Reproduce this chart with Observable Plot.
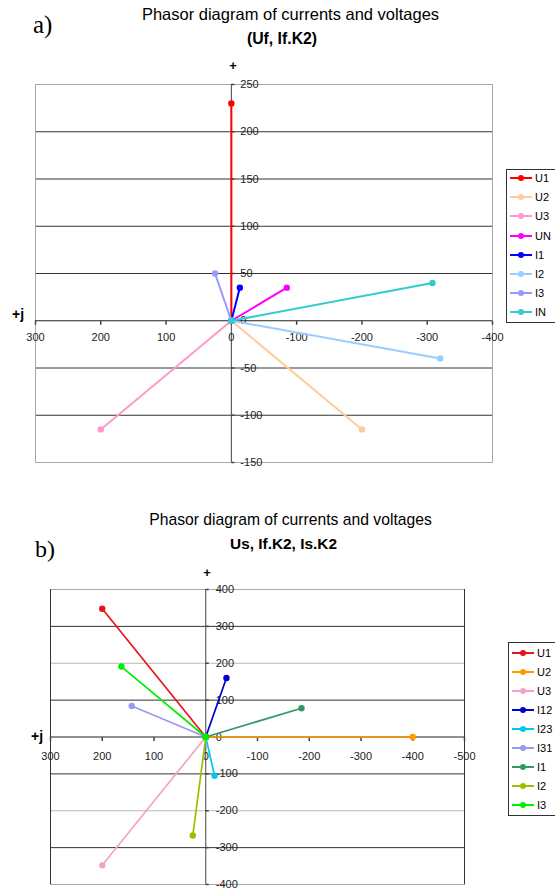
<!DOCTYPE html>
<html><head><meta charset="utf-8">
<script src="https://cdn.jsdelivr.net/npm/d3@7"></script>
<script src="https://cdn.jsdelivr.net/npm/@observablehq/plot@0.6"></script>
<style>
body{margin:0;background:#fff;}
#wrap{position:relative;width:555px;height:891px;overflow:hidden;font-family:"Liberation Sans",Arial,sans-serif;color:#000;}
.t{position:absolute;white-space:nowrap;line-height:1;transform:translateX(-50%);}
.abs{position:absolute;white-space:nowrap;line-height:1;}
.leg{position:absolute;border:1px solid #333;background:#fff;width:70px;}
.item{position:absolute;left:0;height:14px;font-size:11px;line-height:14px;}
.sw{position:absolute;left:3px;top:6px;width:22px;height:2px;}
.dotm{position:absolute;left:8px;top:-2px;width:6px;height:6px;border-radius:50%;}
.lab{position:absolute;left:28px;top:0;}
svg.p{position:absolute;left:0;}
</style></head>
<body><div id="wrap"></div>
<script>
// ---- Panel a data ----
const namesA = ["U1","U2","U3","UN","I1","I2","I3","IN"];
const reA = [0, -200, 200, -85, -13, -320, 25, -308];
const imA = [230, -115, -115, 35, 35, -40, 50, 40];
const xTicksA = [300, 200, 100, 0, -100, -200, -300, -400];
const yTicksA = [250, 200, 150, 100, 50, 0, -50, -100, -150];
const gridA = [200, 150, 100, 50, -50, -100];
const colorsA = ["#ff0000","#ffcc99","#ff99cc","#ff00ff","#0000ff","#99ccff","#9999ff","#33cccc"];

// ---- Panel b data ----
const namesB = ["U1","U2","U3","I12","I23","I31","I1","I2","I3"];
const reB = [200, -400, 200, -40, -17, 143, -185, 25, 163];
const imB = [348, 0, -348, 160, -105, 84, 78, -267, 191];
const xTicksB = [300, 200, 100, 0, -100, -200, -300, -400, -500];
const yTicksB = [400, 300, 200, 100, 0, -100, -200, -300, -400];
const gridDarkB = [300, 100, -100, -300];
const gridLightB = [200, -200];
const colorsB = ["#e8141c","#ff9900","#f7a1c8","#0000cc","#00c8f0","#9999ee","#339966","#99c000","#00ee00"];

const wrap = document.getElementById("wrap");
const FONT = "Liberation Sans, Arial, sans-serif";

function makePanel(cfg) {
  const rows = cfg.names.map((n, i) => ({name: n, re: cfg.re[i], im: cfg.im[i]}));
  const tickDown = {draw(ctx) { ctx.moveTo(0, 0); ctx.lineTo(0, 4); }};
  const tickRight = {draw(ctx) { ctx.moveTo(0, 0); ctx.lineTo(3, 0); }};
  const marks = [
    Plot.ruleY(cfg.gridDark, {y: d => d, stroke: "#333", strokeWidth: 1}),
    cfg.gridLight ? Plot.ruleY(cfg.gridLight, {y: d => d, stroke: "#b8b8b8", strokeWidth: 1.2}) : null,
    Plot.frame({stroke: "#a8a8a8"}),
    cfg.sideDark ? Plot.ruleX([cfg.xTicks[0], cfg.xTicks[cfg.xTicks.length - 1]], {x: d => d, stroke: "#333"}) : null,
    Plot.ruleY([0], {y: () => 0, stroke: "#222"}),
    Plot.ruleX([0], {x: () => 0, stroke: "#444"}),
    Plot.dot(cfg.xTicks, {x: d => d, y: () => 0, symbol: tickDown, stroke: "#444", fill: "none", r: 2}),
    Plot.dot(cfg.yTicks, {x: () => 0, y: d => d, symbol: tickRight, stroke: "#444", fill: "none", r: 2}),
    Plot.text(cfg.xTicks, {x: d => d, y: () => 0, text: d => String(d), dy: cfg.xDy, fill: "#222", fontSize: 11}),
    Plot.text(cfg.yTicks, {x: () => 0, y: d => d, text: d => String(d), textAnchor: "start", dx: cfg.yDx, fill: "#222", fontSize: 11}),
    ...rows.flatMap(r => [
      Plot.link([r], {x1: () => 0, y1: () => 0, x2: "re", y2: "im", stroke: "name", strokeWidth: cfg.lw}),
      Plot.dot([{name: r.name, re: 0, im: 0}, r], {x: "re", y: "im", fill: "name", r: 3.2})
    ])
  ].filter(Boolean);
  const svg = Plot.plot({
    width: 555,
    height: cfg.height,
    marginLeft: cfg.ml, marginRight: cfg.mr, marginTop: cfg.mt, marginBottom: cfg.mb,
    x: {domain: [cfg.xTicks[0], cfg.xTicks[cfg.xTicks.length - 1]], axis: null},
    y: {domain: [cfg.yTicks[cfg.yTicks.length - 1], cfg.yTicks[0]], axis: null},
    color: {type: "ordinal", domain: cfg.names, range: cfg.colors},
    style: {fontFamily: FONT, background: "transparent", overflow: "visible"},
    marks
  });
  svg.classList.add("p");
  svg.style.top = cfg.top + "px";
  wrap.appendChild(svg);
}

makePanel({names: namesA, re: reA, im: imA, colors: colorsA, xTicks: xTicksA, yTicks: yTicksA,
  gridDark: gridA, gridLight: null, sideDark: false, lw: 2,
  top: 0, height: 470, ml: 35, mr: 63, mt: 84, mb: 8, xDy: 17, yDx: 9});
makePanel({names: namesB, re: reB, im: imB, colors: colorsB, xTicks: xTicksB, yTicks: yTicksB,
  gridDark: gridDarkB, gridLight: gridLightB, sideDark: true, lw: 1.7,
  top: 500, height: 400, ml: 50, mr: 91, mt: 89, mb: 16, xDy: 19, yDx: 10});

function addText(txt, cls, left, top, style) {
  const d = document.createElement("div");
  d.className = cls; d.textContent = txt;
  d.style.left = left + "px"; d.style.top = top + "px";
  Object.assign(d.style, style || {});
  wrap.appendChild(d);
}
addText("Phasor diagram of currents and voltages", "t", 290.5, 6, {fontSize: "16.5px"});
addText("(Uf, If.K2)", "t", 282, 30.5, {fontSize: "15.8px", fontWeight: "bold"});
addText("a)", "abs", 33, 12, {fontSize: "25px", fontFamily: "Liberation Serif, Times New Roman, serif"});
addText("+", "t", 233, 59, {fontSize: "13px", fontWeight: "bold"});
addText("+j", "abs", 12, 307, {fontSize: "14px", fontWeight: "bold"});

addText("Phasor diagram of currents and voltages", "t", 290.5, 512, {fontSize: "15.7px"});
addText("Us, If.K2, Is.K2", "t", 283.5, 536, {fontSize: "15.4px", fontWeight: "bold"});
addText("b)", "abs", 35, 537, {fontSize: "24px", fontFamily: "Liberation Serif, Times New Roman, serif"});
addText("+", "t", 207, 566, {fontSize: "13px", fontWeight: "bold"});
addText("+j", "abs", 31, 729, {fontSize: "14px", fontWeight: "bold"});

function legend(names, colors, left, top, height, firstCenter, step) {
  const box = document.createElement("div");
  box.className = "leg";
  box.style.left = left + "px"; box.style.top = top + "px"; box.style.height = height + "px";
  names.forEach((n, i) => {
    const it = document.createElement("div");
    it.className = "item";
    it.style.top = (firstCenter + i * step - top - 1 - 7) + "px";
    it.innerHTML = `<span class="sw" style="background:${colors[i]}"><span class="dotm" style="background:${colors[i]}"></span></span><span class="lab">${n}</span>`;
    box.appendChild(it);
  });
  wrap.appendChild(box);
}
legend(namesA, colorsA, 506, 169, 152, 178, 19.2);
legend(namesB, colorsB, 508, 642, 172, 653, 19);
</script></body></html>
